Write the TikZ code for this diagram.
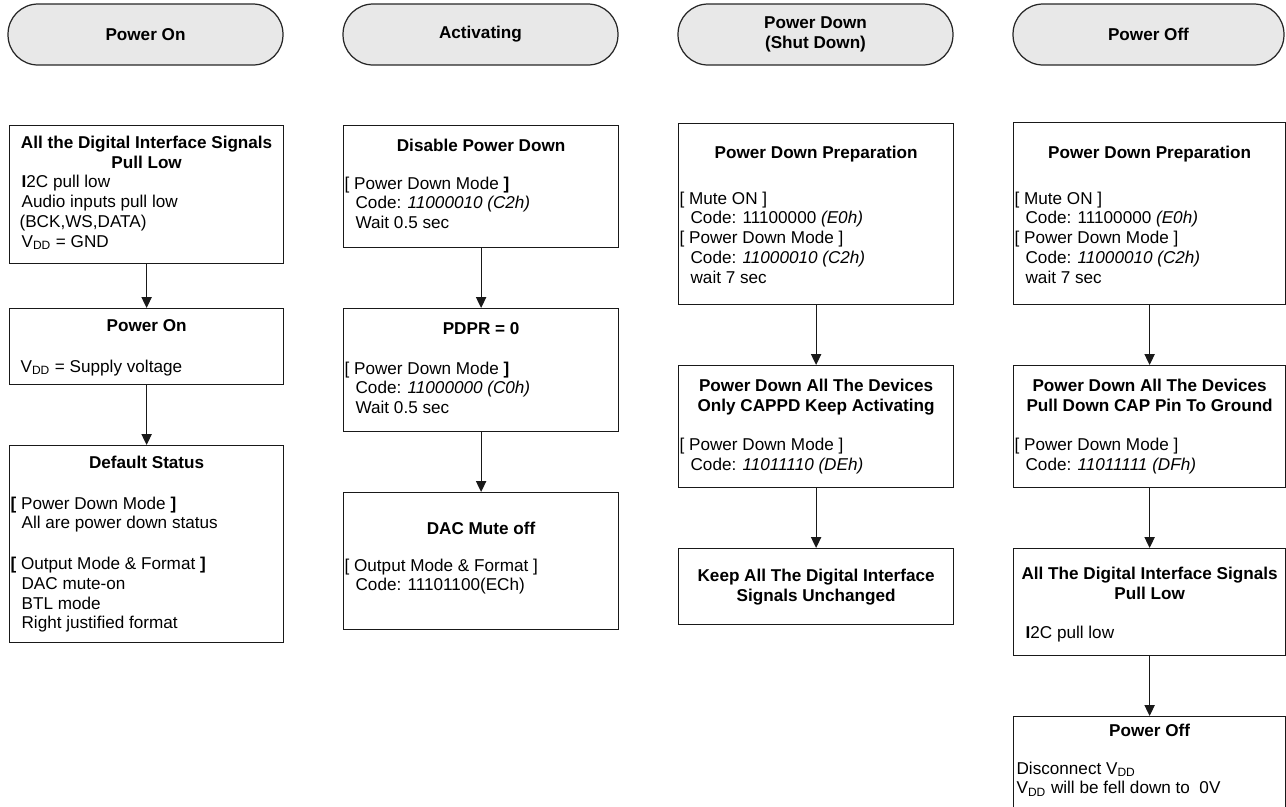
\documentclass[tikz,border=0pt]{standalone}
\usepackage{fontspec}
\setmainfont{Liberation Sans}
\usetikzlibrary{arrows.meta}

\newlength\px
\setlength\px{0.02cm}
\newcommand\ind{\hspace*{12\px}}
\newcommand\brk{\hspace*{1\px}}
\newcommand\vdd{V\textsubscript{DD}}
\newcommand\stepbody[5]{\parbox[c][#2\px][t]{#1\px}{\fontsize{9.75}{11.2}\selectfont\raggedright
  {\centering\bfseries\rule{0pt}{#3\px}#4\par}#5}}

\begin{document}
\begin{tikzpicture}[x=0.02cm, y=-0.02cm,
  stage/.style={draw=black!85, line width=0.7pt, fill=black!9, rounded corners=0.6cm,
    minimum width=5.5cm, minimum height=1.22cm, align=center,
    font=\fontsize{9.75}{11.2}\selectfont\bfseries},
  stepbox/.style={draw=black!90, line width=0.7pt, inner sep=0pt, anchor=north west},
  flow/.style={-{Triangle[length=6.2pt,width=5.8pt]}, line width=0.7pt, black!90}]
\useasboundingbox (0,0) rectangle (1286,806);
\clip (0,0) rectangle (1286,806);

\node[stage] (s1) at (145.5,34.5) {Power On};
\node[stage] (s2) at (480.5,34.5) {Activating};
\node[stage] (s3) at (815.5,34.5) {Power Down\\(Shut Down)};
\node[stage, minimum width=5.42cm] (s4) at (1148.5,34.5) {Power Off};

\node[stepbox] (a1) at (9,125) {\stepbody{274}{138}{23}{All the Digital Interface Signals\\Pull Low}{%
  \ind\textbf{I}2C pull low\\
  \ind Audio inputs pull low\\
  \hspace*{10\px}(BCK,WS,DATA)\\
  \ind\vdd{} = GND}};
\node[stepbox] (a2) at (9,308) {\stepbody{274}{76}{23}{Power On}{%
  \vspace{21\px}\hspace*{11\px}\vdd{} = Supply voltage}};
\node[stepbox] (a3) at (9,445) {\stepbody{274}{197}{23}{Default Status}{%
  \vspace{21\px}\brk\textbf{[} Power Down Mode \textbf{]}\\
  \ind All are power down status\par
  \vspace{21\px}\brk\textbf{[} Output Mode \& Format \textbf{]}\\
  \ind DAC mute-on\\
  \ind BTL mode\\
  \ind Right justified format}};

\node[stepbox] (b1) at (343,125) {\stepbody{275}{122}{26}{Disable Power Down}{%
  \vspace{18\px}\brk[ Power Down Mode \textbf{]}\\
  \ind Code: \textit{11000010 (C2h)}\\
  \ind Wait 0.5 sec}};
\node[stepbox] (b2) at (343,308) {\stepbody{275}{123}{26}{PDPR = 0}{%
  \vspace{20\px}\brk[ Power Down Mode \textbf{]}\\
  \ind Code: \textit{11000000 (C0h)}\\
  \ind Wait 0.5 sec}};
\node[stepbox] (b3) at (343,492) {\stepbody{275}{137}{42}{DAC Mute off}{%
  \vspace{17\px}\brk[ Output Mode \& Format ]\\
  \ind Code: 11101100(ECh)}};

\node[stepbox] (c1) at (678,123) {\stepbody{275}{181}{35}{Power Down Preparation}{%
  \vspace{26\px}\brk[ Mute ON ]\\
  \ind Code: 11100000 \textit{(E0h)}\\
  \brk[ Power Down Mode ]\\
  \ind Code: \textit{11000010 (C2h)}\\
  \ind wait 7 sec}};
\node[stepbox] (c2) at (678,365) {\stepbody{275}{122}{26}{Power Down All The Devices\\Only CAPPD Keep Activating}{%
  \vspace{20\px}\brk[ Power Down Mode ]\\
  \ind Code: \textit{11011110 (DEh)}}};
\node[stepbox] (c3) at (678,548) {\stepbody{275}{76}{33}{Keep All The Digital Interface\\Signals Unchanged}{}};

\node[stepbox] (d1) at (1013,122) {\stepbody{272}{182}{36}{Power Down Preparation}{%
  \vspace{26\px}\brk[ Mute ON ]\\
  \ind Code: 11100000 \textit{(E0h)}\\
  \brk[ Power Down Mode ]\\
  \ind Code: \textit{11000010 (C2h)}\\
  \ind wait 7 sec}};
\node[stepbox] (d2) at (1013,365) {\stepbody{272}{122}{26}{Power Down All The Devices\\Pull Down CAP Pin To Ground}{%
  \vspace{20\px}\brk[ Power Down Mode ]\\
  \ind Code: \textit{11011111 (DFh)}}};
\node[stepbox] (d3) at (1013,548) {\stepbody{272}{107}{31}{All The Digital Interface Signals\\Pull Low}{%
  \vspace{20\px}\ind\textbf{I}2C pull low}};
\node[stepbox] (d4) at (1013,716) {\stepbody{272}{120}{20}{Power Off}{%
  \vspace{18\px}\hspace*{3\px}Disconnect \vdd\\
  \hspace*{3\px}\vdd{} will be fell down to\ \ 0V}};

\draw[flow] (a1.south) -- (a2.north);
\draw[flow] (a2.south) -- (a3.north);
\draw[flow] (b1.south) -- (b2.north);
\draw[flow] (b2.south) -- (b3.north);
\draw[flow] (c1.south) -- (c2.north);
\draw[flow] (c2.south) -- (c3.north);
\draw[flow] (d1.south) -- (d2.north);
\draw[flow] (d2.south) -- (d3.north);
\draw[flow] (d3.south) -- (d4.north);
\end{tikzpicture}
\end{document}
